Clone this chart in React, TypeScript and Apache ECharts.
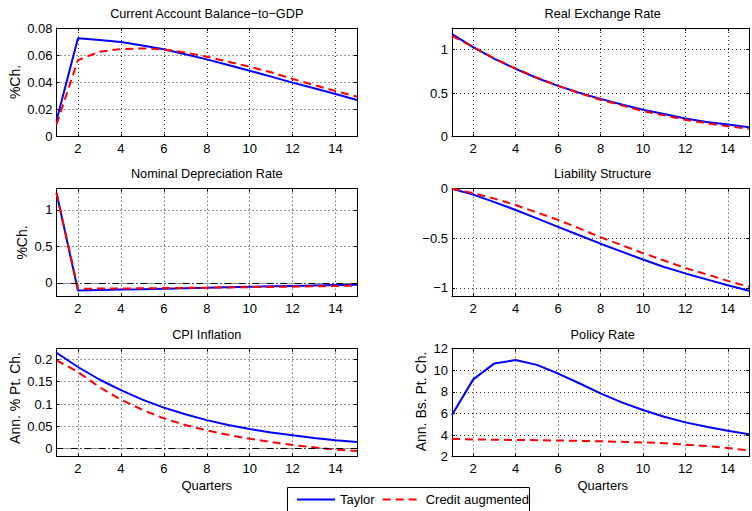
import React, { useEffect, useRef } from 'react';
import * as echarts from 'echarts';

const quarters = [1, 2, 3, 4, 5, 6, 7, 8, 9, 10, 11, 12, 13, 14, 15];

const caTaylor = [0.012, 0.0724, 0.0712, 0.0697, 0.0672, 0.0643, 0.0607, 0.0569, 0.0528, 0.0486, 0.0442, 0.0398, 0.0356, 0.0314, 0.027];
const caCredit = [0.009, 0.0564, 0.0626, 0.0645, 0.065, 0.0643, 0.062, 0.0589, 0.0552, 0.0515, 0.0474, 0.0425, 0.038, 0.0336, 0.0294];

const rerTaylor = [1.18, 1.03, 0.895, 0.78, 0.675, 0.585, 0.505, 0.435, 0.37, 0.31, 0.26, 0.21, 0.17, 0.14, 0.11];
const rerCredit = [1.16, 1.03, 0.9, 0.785, 0.68, 0.585, 0.5, 0.425, 0.36, 0.295, 0.245, 0.195, 0.155, 0.12, 0.09];

const ndrTaylor = [1.23, -0.105, -0.099, -0.093, -0.087, -0.08, -0.073, -0.067, -0.06, -0.054, -0.048, -0.042, -0.036, -0.03, -0.025];
const ndrCredit = [1.23, -0.08, -0.079, -0.077, -0.075, -0.072, -0.069, -0.066, -0.063, -0.059, -0.056, -0.052, -0.048, -0.043, -0.038];

const liabTaylor = [0, -0.06, -0.135, -0.215, -0.3, -0.385, -0.47, -0.555, -0.635, -0.715, -0.79, -0.855, -0.915, -0.975, -1.03];
const liabCredit = [0, -0.045, -0.1, -0.165, -0.24, -0.315, -0.4, -0.49, -0.57, -0.65, -0.725, -0.8, -0.865, -0.93, -0.99];

const cpiTaylor = [0.215, 0.183, 0.155, 0.131, 0.11, 0.092, 0.077, 0.064, 0.053, 0.044, 0.036, 0.03, 0.024, 0.019, 0.015];
const cpiCredit = [0.198, 0.172, 0.138, 0.11, 0.087, 0.068, 0.053, 0.041, 0.031, 0.022, 0.015, 0.008, 0.003, -0.002, -0.005];

const prTaylor = [5.86, 9.16, 10.64, 10.95, 10.5, 9.7, 8.8, 7.86, 7.03, 6.32, 5.7, 5.18, 4.78, 4.4, 4.07];
const prCredit = [3.65, 3.6, 3.57, 3.55, 3.53, 3.5, 3.47, 3.43, 3.38, 3.32, 3.25, 3.12, 2.98, 2.8, 2.58];

const titles = [
  'Current Account Balance\u2212to\u2212GDP',
  'Real Exchange Rate',
  'Nominal Depreciation Rate',
  'Liability Structure',
  'CPI Inflation',
  'Policy Rate',
];
const yLabels = ['%Ch.', '', '%Ch.', '', 'Ann. % Pt. Ch.', 'Ann. Bs. Pt. Ch.'];
const xLabel = 'Quarters';
const seriesNames = ['Taylor', 'Credit augmented'];

const panelData = [
  { t: caTaylor, c: caCredit, min: 0, max: 0.08, step: 0.02, zero: false },
  { t: rerTaylor, c: rerCredit, min: 0, max: 1.25, step: 0.5, zero: false },
  { t: ndrTaylor, c: ndrCredit, min: -0.19, max: 1.29, step: 0.5, zero: true },
  { t: liabTaylor, c: liabCredit, min: -1.09, max: 0, step: 0.5, zero: false },
  { t: cpiTaylor, c: cpiCredit, min: -0.018, max: 0.224, step: 0.05, zero: true },
  { t: prTaylor, c: prCredit, min: 2, max: 12, step: 2, zero: false },
];

const layout = [
  { left: 56.5, top: 28, width: 300.5, height: 108.7, yl: [14.5, 82] },
  { left: 452, top: 28, width: 301.4, height: 108.7, yl: [0, 0] },
  { left: 56.5, top: 188.7, width: 300.5, height: 108, yl: [21.7, 242.5] },
  { left: 452, top: 188.7, width: 301.4, height: 108, yl: [0, 0] },
  { left: 56.5, top: 348.7, width: 300.5, height: 108, yl: [14.7, 398] },
  { left: 452, top: 348.7, width: 301.4, height: 108, yl: [421, 401.5] },
];

const FONT = '"Liberation Sans", Arial, Helvetica, sans-serif';

function fmt(v: number): string {
  const s = String(Number(v.toFixed(4)));
  return s.replace('-', '\u2212');
}

function isMultiple(v: number, step: number): boolean {
  const r = v / step;
  return Math.abs(r - Math.round(r)) < 1e-6;
}

export default function App() {
  const ref = useRef<HTMLDivElement>(null);

  useEffect(() => {
    if (!ref.current) return;
    const chart = echarts.init(ref.current, undefined, { renderer: 'svg' });

    const grid: any[] = [];
    const xAxis: any[] = [];
    const yAxis: any[] = [];
    const series: any[] = [];
    const graphic: any[] = [];

    panelData.forEach((p, i) => {
      const L = layout[i];
      grid.push({ left: L.left, top: L.top, width: L.width, height: L.height, containLabel: false });
      const tickStyle = { show: true, inside: true, length: 3, lineStyle: { color: '#000', width: 1 } };
      xAxis.push({
        type: 'value', gridIndex: i, min: 1, max: 15, minInterval: 2, maxInterval: 2,
        axisLine: { show: true, onZero: false, lineStyle: { color: '#000', width: 1 } },
        axisTick: tickStyle,
        axisLabel: {
          color: '#000', fontSize: 13, fontFamily: FONT, margin: 5,
          formatter: (v: number) => (isMultiple(v, 2) ? String(v) : ''),
        },
        splitLine: { show: true, lineStyle: { color: '#333', width: 1, type: [1, 3] } },
      });
      xAxis.push({
        type: 'value', gridIndex: i, position: 'top', min: 1, max: 15, minInterval: 2, maxInterval: 2,
        axisLine: { show: true, onZero: false, lineStyle: { color: '#000', width: 1 } },
        axisTick: tickStyle, axisLabel: { show: false }, splitLine: { show: false },
      });
      yAxis.push({
        type: 'value', gridIndex: i, min: p.min, max: p.max, minInterval: p.step, maxInterval: p.step,
        axisLine: { show: true, onZero: false, lineStyle: { color: '#000', width: 1 } },
        axisTick: tickStyle,
        axisLabel: {
          color: '#000', fontSize: 13, fontFamily: FONT, margin: 4,
          formatter: (v: number) => (isMultiple(v, p.step) ? fmt(v) : ''),
        },
        splitLine: { show: true, lineStyle: { color: '#333', width: 1, type: [1, 3] } },
      });
      yAxis.push({
        type: 'value', gridIndex: i, position: 'right', min: p.min, max: p.max, minInterval: p.step, maxInterval: p.step,
        axisLine: { show: true, onZero: false, lineStyle: { color: '#000', width: 1 } },
        axisTick: tickStyle, axisLabel: { show: false }, splitLine: { show: false },
      });

      const tData = quarters.map((q, k) => [q, p.t[k]]);
      const cData = quarters.map((q, k) => [q, p.c[k]]);
      series.push({
        name: seriesNames[0], type: 'line', xAxisIndex: 2 * i, yAxisIndex: 2 * i,
        data: tData, symbol: 'none', showSymbol: false,
        lineStyle: { color: '#0000ff', width: 2 }, itemStyle: { color: '#0000ff' },
        z: 3,
        markLine: p.zero
          ? {
              silent: true, symbol: 'none', label: { show: false },
              lineStyle: { color: '#000', width: 1, type: [7, 3, 1, 3] },
              data: [{ yAxis: 0 }],
            }
          : undefined,
      });
      series.push({
        name: seriesNames[1], type: 'line', xAxisIndex: 2 * i, yAxisIndex: 2 * i,
        data: cData, symbol: 'none', showSymbol: false,
        lineStyle: { color: '#ff0000', width: 2, type: [8, 5] }, itemStyle: { color: '#ff0000' },
        z: 4,
      });

      graphic.push({
        type: 'text', x: L.left + L.width / 2, y: i < 2 ? 13.5 : i < 4 ? 174 : 335,
        style: { text: titles[i], fill: '#000', font: `12.7px ${FONT}`, align: 'center', verticalAlign: 'middle' },
      });
      if (yLabels[i]) {
        graphic.push({
          type: 'text', x: L.yl[0], y: L.yl[1], rotation: Math.PI / 2,
          style: { text: yLabels[i], fill: '#000', font: `14px ${FONT}`, align: 'center', verticalAlign: 'middle' },
        });
      }
      if (i >= 4) {
        graphic.push({
          type: 'text', x: L.left + L.width / 2, y: 485,
          style: { text: xLabel, fill: '#000', font: `13px ${FONT}`, align: 'center', verticalAlign: 'middle' },
        });
      }
    });

    graphic.push({
      type: 'rect', z: 0,
      shape: { x: 287.5, y: 487.5, width: 242, height: 30 },
      style: { fill: '#fff', stroke: '#000', lineWidth: 1 },
    });

    chart.setOption({
      animation: false,
      backgroundColor: '#fff',
      grid,
      xAxis,
      yAxis,
      series,
      graphic,
      legend: {
        data: seriesNames,
        left: 296, top: 493, padding: 0,
        itemWidth: 38, itemHeight: 14, itemGap: 7,
        itemStyle: { opacity: 0 },
        textStyle: { color: '#000', fontSize: 13, fontFamily: FONT },
        z: 10,
      },
    });

    return () => chart.dispose();
  }, []);

  return (
    <div
      ref={ref}
      style={{ position: 'fixed', left: 0, top: 0, width: 752, height: 511, background: '#fff' }}
    />
  );
}
